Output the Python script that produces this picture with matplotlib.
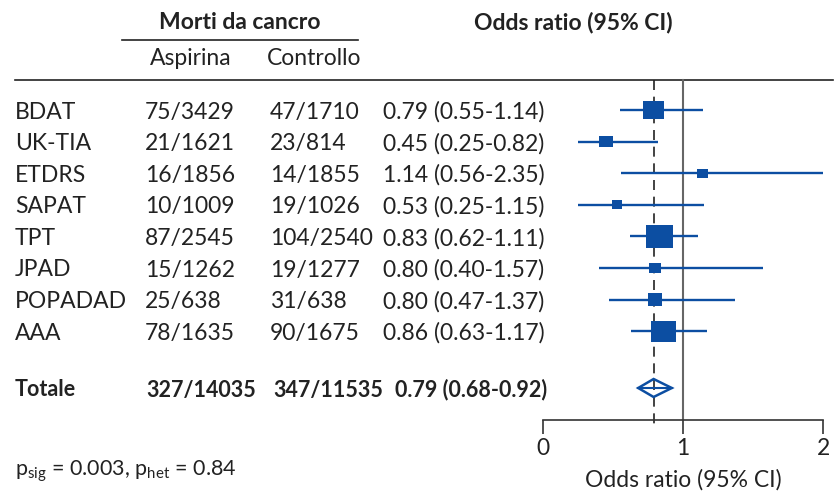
import numpy as np
import matplotlib.pyplot as plt
from matplotlib.patches import Rectangle, Polygon

plt.rcParams['font.family'] = ['Lato', 'DejaVu Sans']
plt.rcParams['mathtext.fontset'] = 'custom'
plt.rcParams['mathtext.rm'] = 'Lato'
plt.rcParams['mathtext.it'] = 'Lato'

# trial data
studies = ['BDAT', 'UK-TIA', 'ETDRS', 'SAPAT', 'TPT', 'JPAD', 'POPADAD', 'AAA']
asa_events = [75, 21, 16, 10, 87, 15, 25, 78]
asa_total = [3429, 1621, 1856, 1009, 2545, 1262, 638, 1635]
ctl_events = [47, 23, 14, 19, 104, 19, 31, 90]
ctl_total = [1710, 814, 1855, 1026, 2540, 1277, 638, 1675]
odds = [0.79, 0.45, 1.14, 0.53, 0.83, 0.80, 0.80, 0.86]
ci_low = [0.55, 0.25, 0.56, 0.25, 0.62, 0.40, 0.47, 0.63]
ci_high = [1.14, 0.82, 2.35, 1.15, 1.11, 1.57, 1.37, 1.17]

pooled_label = 'Totale'
pooled_asa = '327/14035'
pooled_ctl = '347/11535'
pooled_or, pooled_lo, pooled_hi = 0.79, 0.68, 0.92
p_sig, p_het = 0.003, 0.84

blue = '#0c4ea2'
dark = '#222222'
W, H = 840, 491

fig = plt.figure(figsize=(W / 100, H / 100), dpi=100)

# background axes in pixel units for the table text
bg = fig.add_axes([0, 0, 1, 1])
bg.set_xlim(0, W)
bg.set_ylim(H, 0)
bg.axis('off')

# forest axes: x in odds ratio, y in pixels from the top
ax_bottom = 420
ax = fig.add_axes([543 / W, (H - ax_bottom) / H, 280 / W, ax_bottom / H])
ax.set_xlim(0, 2)
ax.set_ylim(ax_bottom, 0)
ax.patch.set_alpha(0)
for s in ['top', 'left', 'right']:
    ax.spines[s].set_visible(False)
ax.spines['bottom'].set_color('#333333')
ax.spines['bottom'].set_linewidth(1.2)
ax.set_yticks([])
ax.set_xticks([0, 1, 2])
ax.set_xticklabels(['0', '1', '2'])

fs = 16.5
ax.tick_params(axis='x', direction='out', length=10, width=1.2, color='#333333',
               labelsize=fs, labelcolor=dark, pad=3)
ax.set_xlabel('Odds ratio (95% CI)', fontsize=fs, color=dark, labelpad=7)

row_y = 110 + 31.6 * np.arange(len(studies))
col_x = [15, 145, 270, 383]
tot_x = [15, 146, 273, 395]
dy = 2  # nudge text down so it sits level with the markers

# headers
bg.text(240, 22, 'Morti da cancro', fontsize=fs, fontweight='bold', color=dark,
        ha='center', va='center')
bg.plot([122, 358], [40, 40], color=dark, lw=1.2)
bg.text(191, 58, 'Aspirina', fontsize=fs, color=dark, ha='center', va='center')
bg.text(314, 58, 'Controllo', fontsize=fs, color=dark, ha='center', va='center')
bg.text(573, 22, 'Odds ratio (95% CI)', fontsize=fs, fontweight='bold', color=dark,
        ha='center', va='center')
bg.plot([15, 833], [80, 80], color=dark, lw=1.2)

for i, name in enumerate(studies):
    y = row_y[i] + dy
    cells = [name, f'{asa_events[i]}/{asa_total[i]}', f'{ctl_events[i]}/{ctl_total[i]}',
             f'{odds[i]:.2f} ({ci_low[i]:.2f}-{ci_high[i]:.2f})']
    for x, t in zip(col_x, cells):
        bg.text(x, y, t, fontsize=fs, color=dark, ha='left', va='center')

ty = 388
cells = [pooled_label, pooled_asa, pooled_ctl,
         f'{pooled_or:.2f} ({pooled_lo:.2f}-{pooled_hi:.2f})']
for x, t in zip(tot_x, cells):
    bg.text(x, ty + dy, t, fontsize=15.5, fontweight='bold', color=dark,
            ha='left', va='center')

bg.text(15, 471, rf'p$_{{\rm sig}}$ = {p_sig}, p$_{{\rm het}}$ = {p_het}',
        fontsize=15.5, color=dark, ha='left', va='center')

# reference lines
ax.plot([1, 1], [80, ax_bottom], color='#666666', lw=1.5, zorder=1)
ax.plot([pooled_or, pooled_or], [80, 426], color=dark, lw=1.2,
        dashes=(6, 4), zorder=1, clip_on=False)

# study estimates: box side scaled by inverse CI log-width
px = 2 / 280
for i in range(len(studies)):
    y = row_y[i]
    ax.plot([ci_low[i], ci_high[i]], [y, y], color=blue, lw=1.7, zorder=2,
            solid_capstyle='butt')
    side = 15.5 / np.log(ci_high[i] / ci_low[i])
    w = side * px
    h = side * 0.85
    ax.add_patch(Rectangle((odds[i] - w / 2, y - h / 2), w, h,
                           facecolor=blue, edgecolor='none', zorder=3))

# pooled estimate
dh = 9
ax.add_patch(Polygon([(pooled_lo, ty), (pooled_or, ty - dh), (pooled_hi, ty),
                      (pooled_or, ty + dh)], closed=True, facecolor='none',
                     edgecolor=blue, lw=1.8, zorder=3))
ax.plot([pooled_lo, pooled_hi], [ty, ty], color=blue, lw=1.5, zorder=3)

fig.savefig('out.png', dpi=100)
